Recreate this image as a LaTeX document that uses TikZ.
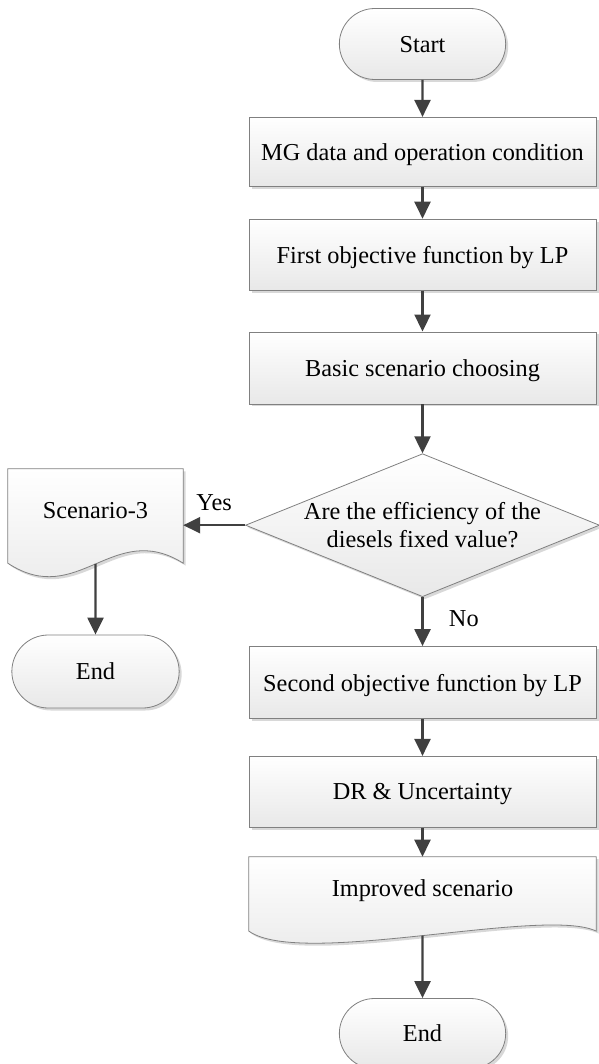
\documentclass[tikz,border=0pt]{standalone}
\usepackage{fontspec}
\setmainfont{Liberation Serif}
\usetikzlibrary{positioning,shapes.geometric,shapes.misc,shadows,arrows.meta,calc,backgrounds}

\begin{document}
\begin{tikzpicture}[x=1pt, y=-1pt,
			every node/.style = {font=\fontsize{24.3pt}{28pt}\selectfont, align=center},
			boxlook/.style = {draw=black!50, line width=0.8pt, top color=white, bottom color=black!9,
				drop shadow={shadow xshift=2.5pt, shadow yshift=-2.5pt, fill=black!30, opacity=0.5}},
			terminal/.style = {boxlook, rounded rectangle, minimum width=173pt, minimum height=71pt, text depth=0pt},
			process/.style = {boxlook, rectangle, minimum width=347pt, minimum height=71pt, text depth=0pt},
			decision/.style = {boxlook, diamond, minimum width=354pt, minimum height=143pt, inner sep=0pt, aspect=2.476},
			docbox/.style = {rectangle, minimum height=62pt, text depth=0pt},
			flow/.style = {-{Triangle[length=17pt, width=16pt]}, line width=2.3pt, draw=black!75}]
			
			\useasboundingbox (0,0) rectangle (598,1064);
			
			\node[terminal] (start) at (422.5,44) {Start};
			\node[process, below=37pt of start, minimum height=69pt] (mgdata) {MG data and operation condition};
			\node[process, below=32pt of mgdata] (firstobj) {First objective function by LP};
			\node[process, below=41pt of firstobj, minimum height=72pt] (basic) {Basic scenario choosing};
			\node[decision, below=49pt of basic] (check) {Are the efficiency of the\\diesels fixed value?};
			\node[process, below=49pt of check, minimum height=72pt] (secondobj) {Second objective function by LP};
			\node[process, below=37pt of secondobj] (dr) {DR \& Uncertainty};
			\node[docbox, minimum width=347pt, below=29pt of dr] (improved) {Improved scenario};
			\node[terminal, below=79pt of improved, minimum height=70pt] (endmain) {End};
			
			\node[docbox, minimum width=175pt, minimum height=82pt] (scen) at (95.5,510) {Scenario-3};
			\node[terminal, minimum width=174pt, minimum height=73pt] (endside) at (95.5,671.5) {End};
			
			\coordinate (scenwave) at ($(scen.south)+(0,-12.75pt)$);
			\coordinate (improvedwave) at ($(improved.south)+(0,-16.5pt)$);
			
			\begin{scope}[on background layer]
				\path[boxlook] (scen.north west) -- (scen.north east) -- ($(scen.south east)+(0,-12pt)$)
					.. controls ($(scen.south east)+(-70pt,32pt)$) and ($(scen.south west)+(70pt,-58pt)$) .. ($(scen.south west)+(0,-12pt)$) -- cycle;
				\path[boxlook] (improved.north west) -- (improved.north east) -- ($(improved.south east)+(0,-12pt)$)
					.. controls ($(improved.south east)+(-52pt,13pt)$) and ($(improved.south west)+(52pt,-49pt)$) .. ($(improved.south west)+(0,-12pt)$) -- cycle;
			\end{scope}
			
			\draw[flow] (start) -- (mgdata);
			\draw[flow] (mgdata) -- (firstobj);
			\draw[flow] (firstobj) -- (basic);
			\draw[flow] (basic) -- (check);
			\draw[flow] (check) -- node[pos=0.44, right=22pt] (no) {No} (secondobj);
			\draw[flow] (check) -- node[midway, above=10pt] (yes) {Yes} (scen.east |- check);
			\draw[flow] (secondobj) -- (dr);
			\draw[flow] (dr) -- (improved);
			\draw[flow] (improvedwave) -- (endmain);
			\draw[flow] (scenwave) -- (endside);
			\end{tikzpicture}
\end{document}
